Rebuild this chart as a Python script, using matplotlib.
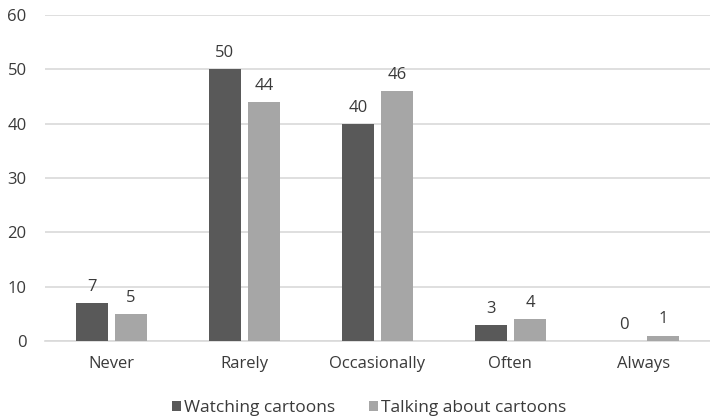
import matplotlib
matplotlib.use("Agg")
import matplotlib.pyplot as plt
import numpy as np

categories = ["Never", "Rarely", "Occasionally", "Often", "Always"]
watching = [7, 50, 40, 3, 0]
talking = [5, 44, 46, 4, 1]
series_names = ["Watching cartoons", "Talking about cartoons"]
yticks = [0, 10, 20, 30, 40, 50, 60]

plt.rcParams['font.family'] = ['Open Sans', 'DejaVu Sans']
dark = "#595959"
light = "#a6a6a6"
txt = "#3a3a3a"
fs = 12

fig = plt.figure(figsize=(7.1, 4.2), dpi=100)
ax = fig.add_axes([0.063, 0.188, 0.937, 0.776])

x = np.arange(len(categories))
w = 0.24
off = 0.147
b1 = ax.bar(x - off, watching, w, color=dark, label=series_names[0], zorder=3)
b2 = ax.bar(x + off, talking, w, color=light, label=series_names[1], zorder=3)

for bars, vals in ((b1, watching), (b2, talking)):
    for r, v in zip(bars, vals):
        ax.text(r.get_x() + r.get_width() / 2, v + 1.5, str(v), ha="center", va="bottom",
                fontsize=fs, color=txt)

ax.set_xlim(-0.5, len(categories) - 0.5)
ax.set_ylim(0, 60)
ax.set_yticks(yticks)
ax.set_yticklabels([str(t) for t in yticks], fontsize=fs, color=txt)
ax.set_xticks(x)
ax.set_xticklabels(categories, fontsize=fs, color=txt)
ax.tick_params(axis="both", length=0)
ax.tick_params(axis="x", pad=11)
ax.tick_params(axis="y", pad=13)
ax.grid(axis="y", color="#d9d9d9", linewidth=1.2, zorder=0)
for s in ["top", "right", "left"]:
    ax.spines[s].set_visible(False)
ax.spines["bottom"].set_color("#d9d9d9")
ax.spines["bottom"].set_linewidth(1.2)

fig.legend(handles=[b1, b2], labels=series_names, loc="lower center",
           bbox_to_anchor=(0.52, -0.028), ncol=2, frameon=False, fontsize=12.5,
           handlelength=0.5, handleheight=0.5, handletextpad=0.15, columnspacing=2.0,
           labelcolor=txt)

fig.savefig("out.png", dpi=100)
